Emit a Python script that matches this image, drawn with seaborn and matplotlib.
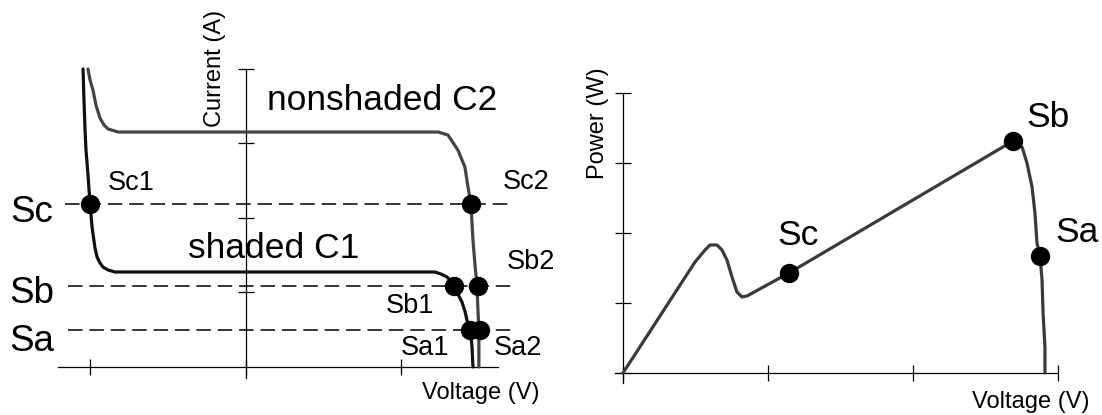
import pandas as pd
import seaborn as sns
import matplotlib
matplotlib.use("Agg")
import matplotlib.pyplot as plt

sns.set_style("white")
plt.rcParams["font.family"] = ["Liberation Sans", "DejaVu Sans"]
plt.rcParams["text.color"] = "black"

# I-V curves (left panel), schematic units
c1_v = [-1.048, -1.042, -1.035, -1.029, -1.016, -1.003, -0.990, -0.971, -0.958, -0.939,
        -0.920, -0.887, -0.842, 1.215, 1.254, 1.293, 1.318, 1.338, 1.363, 1.389,
        1.408, 1.421, 1.434, 1.441, 1.453, 1.460]
c1_i = [4.0, 3.584, 3.181, 2.913, 2.577, 2.188, 1.879, 1.597, 1.477, 1.396,
        1.342, 1.302, 1.275, 1.275, 1.248, 1.208, 1.154, 1.087, 0.980, 0.872,
        0.752, 0.631, 0.550, 0.497, 0.295, 0.0]
c2_v = [-1.016, -1.003, -0.984, -0.965, -0.939, -0.913, -0.887, -0.823, 1.235, 1.299,
        1.363, 1.408, 1.428, 1.447, 1.460, 1.473, 1.486, 1.492, 1.498, 1.498]
c2_i = [4.0, 3.852, 3.718, 3.517, 3.342, 3.248, 3.195, 3.154, 3.154, 3.114,
        2.913, 2.685, 2.416, 2.188, 1.705, 1.369, 1.087, 0.765, 0.497, 0.0]

# operating points on the I-V curves
iv_pt_names = ["Sc1", "Sc2", "Sb1", "Sb2", "Sa1", "Sa2"]
iv_pt_v = [-1.003, 1.447, 1.338, 1.492, 1.441, 1.505]
iv_pt_i = [2.188, 2.188, 1.087, 1.087, 0.497, 0.497]

# string current levels (dashed lines)
level_names = ["Sc", "Sb", "Sa"]
level_i = [2.188, 1.087, 0.497]
level_v0 = [-1.164, -1.145, -1.145]
level_v1 = [1.698, 1.743, 1.743]

# P-V curve (right panel)
pv_v = [0.0, 0.497, 0.566, 0.600, 0.648, 0.683, 0.717, 0.752, 0.786, 0.821,
        0.855, 1.145, 2.690, 2.752, 2.786, 2.821, 2.841, 2.855, 2.876, 2.890,
        2.897, 2.910, 2.910]
pv_p = [0.0, 1.586, 1.757, 1.829, 1.829, 1.757, 1.614, 1.371, 1.157, 1.086,
        1.100, 1.429, 3.314, 3.229, 3.0, 2.657, 2.286, 1.857, 1.671, 1.329,
        0.857, 0.371, 0.0]
pv_pt_names = ["Sc", "Sb", "Sa"]
pv_pt_v = [1.145, 2.690, 2.876]
pv_pt_p = [1.429, 3.314, 1.671]

c1 = pd.DataFrame({"v": c1_v, "i": c1_i})
c2 = pd.DataFrame({"v": c2_v, "i": c2_i})
pv = pd.DataFrame({"v": pv_v, "p": pv_p})

W, H = 1102, 415
fig = plt.figure(figsize=(W / 100, H / 100), dpi=100)
ax1 = fig.add_axes([58 / W, (H - 378) / H, 440 / W, 309 / H])
ax2 = fig.add_axes([615 / W, (H - 383) / H, 443 / W, 290 / H])

for ax in (ax1, ax2):
    ax.set_facecolor("none")
    for s in ("top", "right"):
        ax.spines[s].set_visible(False)
    for s in ("left", "bottom"):
        ax.spines[s].set_position(("data", 0))
        ax.spines[s].set_color("black")
        ax.spines[s].set_linewidth(0.9)
    ax.tick_params(direction="inout", length=12, width=0.9, color="black",
                   labelbottom=False, labelleft=False, bottom=True, left=True)

big = 25.5
small = 19.5
lab = 17

# ---- left: I-V ----
ax1.set_xlim(-1.209, 1.621)
ax1.set_ylim(-0.148, 4.0)
ax1.set_xticks([-1, 0, 1])
ax1.set_yticks([1, 2, 3, 4])

for v0, v1, lvl in zip(level_v0, level_v1, level_i):
    ax1.hlines(lvl, v0, v1, colors="black", linewidth=1.1,
               linestyles=(0, (9.5, 4.5)), clip_on=False, zorder=2)

sns.lineplot(data=c2, x="v", y="i", sort=False, estimator=None, color="#454545",
             linewidth=2.3, ax=ax1, zorder=3, clip_on=False)
sns.lineplot(data=c1, x="v", y="i", sort=False, estimator=None, color="#111111",
             linewidth=2.3, ax=ax1, zorder=4, clip_on=False)
sns.scatterplot(x=iv_pt_v, y=iv_pt_i, color="black", s=195, linewidth=0,
                ax=ax1, zorder=5, clip_on=False)

for name, lvl, y in zip(level_names, level_i, [2.067, 0.993, 0.336]):
    ax1.text(-1.38, y, name, fontsize=big + 1, ha="center", va="center")

iv_lab_xy = {"Sc1": (-0.740, 2.470), "Sc2": (1.800, 2.483), "Sb1": (1.055, 0.819),
             "Sb2": (1.833, 1.409), "Sa1": (1.151, 0.255), "Sa2": (1.749, 0.255)}
for name in iv_pt_names:
    x, y = iv_lab_xy[name]
    ax1.text(x, y, name, fontsize=small, ha="center", va="center")

ax1.text(0.135, 3.45, "nonshaded C2", fontsize=big, ha="left", va="baseline")
ax1.text(-0.373, 1.463, "shaded C1", fontsize=big, ha="left", va="baseline")
ax1.text(-0.199, 4.01, "Current (A)", fontsize=lab, rotation=90,
         ha="center", va="center")
ax1.text(1.511, -0.349, "Voltage (V)", fontsize=lab, ha="center", va="center")
ax1.set_xlabel("")
ax1.set_ylabel("")

# ---- right: P-V ----
ax2.set_xlim(-0.055, 3.0)
ax2.set_ylim(-0.143, 4.0)
ax2.set_xticks([0, 1, 2, 3])
ax2.set_yticks([0, 1, 2, 3, 4])

sns.lineplot(data=pv, x="v", y="p", sort=False, estimator=None, color="#3a3a3a",
             linewidth=2.3, ax=ax2, zorder=3)
sns.scatterplot(x=pv_pt_v, y=pv_pt_p, color="black", s=195, linewidth=0,
                ax=ax2, zorder=5, clip_on=False)

pv_lab_xy = {"Sc": (1.207, 1.971), "Sb": (2.934, 3.657), "Sa": (3.131, 2.0)}
for name in pv_pt_names:
    x, y = pv_lab_xy[name]
    ax2.text(x, y, name, fontsize=big, ha="center", va="center")

ax2.text(-0.172, 3.571, "Power (W)", fontsize=lab, rotation=90,
         ha="center", va="center")
ax2.text(2.814, -0.414, "Voltage (V)", fontsize=lab, ha="center", va="center")
ax2.set_xlabel("")
ax2.set_ylabel("")

fig.savefig("out.png", dpi=100)
